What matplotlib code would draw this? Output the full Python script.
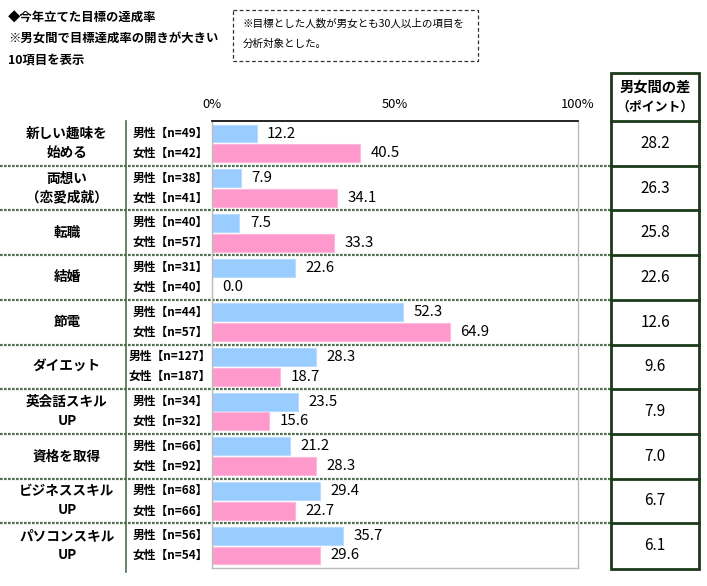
import numpy as np
import matplotlib
matplotlib.use('Agg')
import matplotlib.pyplot as plt
from matplotlib.patches import Rectangle

plt.rcParams['font.family'] = ['Noto Sans CJK JP', 'DejaVu Sans']

# === データ ===
categories = ['新しい趣味を\n始める', '両想い\n（恋愛成就）', '転職', '結婚', '節電',
              'ダイエット', '英会話スキル\nUP', '資格を取得', 'ビジネススキル\nUP',
              'パソコンスキル\nUP']
male_n = [49, 38, 40, 31, 44, 127, 34, 66, 68, 56]
female_n = [42, 41, 57, 40, 57, 187, 32, 92, 66, 54]
male_rate = [12.2, 7.9, 7.5, 22.6, 52.3, 28.3, 23.5, 21.2, 29.4, 35.7]
female_rate = [40.5, 34.1, 33.3, 0.0, 64.9, 18.7, 15.6, 28.3, 22.7, 29.6]
gap = [28.2, 26.3, 25.8, 22.6, 12.6, 9.6, 7.9, 7.0, 6.7, 6.1]
tick_vals = [0, 50, 100]
tick_labels = ['0%', '50%', '100%']

title_lines = ['◆今年立てた目標の達成率', '※男女間で目標達成率の開きが大きい', '10項目を表示']
note_lines = ['※目標とした人数が男女とも30人以上の項目を', '分析対象とした。']

male_color = '#99ccff'
female_color = '#ff99cc'
green = '#4f6f4f'
dark_green = '#1a3a1a'

W, H = 707, 586
fig = plt.figure(figsize=(W / 100, H / 100), dpi=100)

# 全体をピクセル座標で扱うための下地
ov = fig.add_axes([0, 0, 1, 1])
ov.set_xlim(0, W)
ov.set_ylim(H, 0)
ov.axis('off')

# レイアウト
top, bottom = 121, 568
plot_l, plot_r = 212, 578
tab_l, tab_r, tab_top = 611, 699, 73
n = len(categories)
gh = (bottom - top) / n

# タイトル
for i, line in enumerate(title_lines):
    ov.text(8, 18 + i * 21, line, fontsize=8.9, fontweight='bold', va='center', ha='left')

# 注記ボックス
ov.add_patch(Rectangle((233, 10), 245, 51, fill=False, edgecolor='#333333',
                       linestyle=(0, (3, 2)), lw=0.9))
for i, line in enumerate(note_lines):
    ov.text(243, 24 + i * 20, line, fontsize=7.6, va='center', ha='left')

# 区切り線
for k in range(1, n):
    yy = top + gh * k
    ov.plot([0, tab_l], [yy, yy], color=green, lw=1.6, linestyle=(0, (1.2, 0.6)))
ov.plot([126, 126], [top, bottom + 4], color=green, lw=1.2)

# 項目名と性別ラベル
for i, cat in enumerate(categories):
    cy = top + gh * (i + 0.5)
    ov.text(67, cy, cat, fontsize=9.8, fontweight='bold', ha='center', va='center',
            linespacing=1.45)
    ov.text(170, cy - 10, f'男性【n={male_n[i]}】', fontsize=8.5, fontweight='bold',
            ha='center', va='center')
    ov.text(170, cy + 10, f'女性【n={female_n[i]}】', fontsize=8.5, fontweight='bold',
            ha='center', va='center')

# 男女間の差の表
ov.add_patch(Rectangle((tab_l, tab_top), tab_r - tab_l, bottom + 1 - tab_top, fill=False,
                       edgecolor=dark_green, lw=2))
ov.plot([tab_l, tab_r], [top, top], color=dark_green, lw=2)
ov.text((tab_l + tab_r) / 2, 88, '男女間の差', fontsize=10.3, fontweight='bold',
        ha='center', va='center')
ov.text((tab_l + tab_r) / 2, 107, '（ポイント）', fontsize=9.3, fontweight='bold',
        ha='center', va='center')
for k in range(1, n):
    yy = top + gh * k
    ov.plot([tab_l, tab_r], [yy, yy], color=dark_green, lw=2)
for i, g in enumerate(gap):
    ov.text((tab_l + tab_r) / 2, top + gh * (i + 0.5), f'{g:.1f}', fontsize=11,
            ha='center', va='center')

# 棒グラフ
ax = fig.add_axes([plot_l / W, (H - bottom) / H, (plot_r - plot_l) / W, (bottom - top) / H])
ax.set_facecolor('none')
y = np.arange(n)
off, bh = 0.22, 0.40
ax.barh(y - off, male_rate, height=bh, color=male_color, edgecolor='#b8dcff', lw=0.8)
ax.barh(y + off, female_rate, height=bh, color=female_color, edgecolor='#ffb8dc', lw=0.8)
for i in range(n):
    ax.annotate(f'{male_rate[i]:.1f}', (male_rate[i], y[i] - off), xytext=(7.5, 0),
                textcoords='offset points', va='center', ha='left', fontsize=10.8)
    ax.annotate(f'{female_rate[i]:.1f}', (female_rate[i], y[i] + off), xytext=(7.5, 0),
                textcoords='offset points', va='center', ha='left', fontsize=10.8)

ax.set_xlim(0, 100)
ax.set_ylim(n - 0.5, -0.5)
ax.xaxis.tick_top()
ax.set_xticks(tick_vals)
ax.set_xticklabels(tick_labels, fontsize=9.3)
ax.tick_params(axis='x', length=0, pad=7)
ax.set_yticks([])
ax.spines['top'].set_color('black')
ax.spines['top'].set_linewidth(1.2)
for s in ['left', 'right', 'bottom']:
    ax.spines[s].set_color('#bbbbbb')
    ax.spines[s].set_linewidth(1)

fig.savefig('out.png', dpi=100)
